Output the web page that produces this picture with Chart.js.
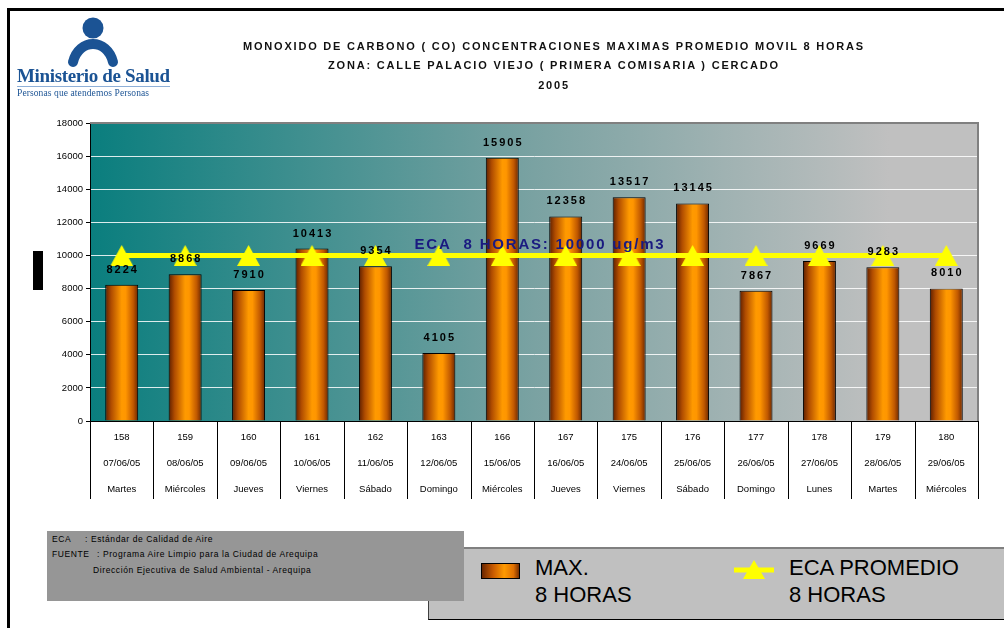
<!DOCTYPE html>
<html>
<head>
<meta charset="utf-8">
<script src="https://cdn.jsdelivr.net/npm/chart.js@4"></script>
<style>
  body { margin: 0; width: 1004px; height: 628px; position: relative; overflow: hidden; background: #fff;
         font-family: "Liberation Sans", Arial, sans-serif; }
  #chart { position: absolute; left: 0; top: 0; z-index: 1; }
  .frame { position: absolute; left: 7px; top: 8px; width: 1010px; height: 640px;
           border-top: 3px solid #000; border-left: 3px solid #000; z-index: 0; }
  .title { position: absolute; left: 104px; width: 900px; text-align: center; font-size: 11px;
           font-weight: bold; line-height: 11px; letter-spacing: 1.8px; color: #111; z-index: 2; }
  .logo { position: absolute; left: 0; top: 0; z-index: 2; }
  .logo-main { position: absolute; left: 17px; top: 66px; font-family: "Liberation Serif", serif; font-weight: bold;
               font-size: 19px; line-height: 19px; color: #1b5394; white-space: nowrap; letter-spacing: -0.35px; }
  .logo-line { position: absolute; left: 17px; top: 86px; width: 153px; height: 1px; background: #8fb0d8; }
  .logo-sub { position: absolute; left: 17px; top: 88px; font-family: "Liberation Serif", serif; font-size: 9.5px;
              line-height: 10px; color: #1b5394; white-space: nowrap; letter-spacing: 0.1px; }
  .mark { position: absolute; left: 33px; top: 251px; width: 10px; height: 39px; background: #000; z-index: 2; }
  .note { position: absolute; left: 47px; top: 531px; width: 417px; height: 70px; background: #969696; z-index: 4;
          font-size: 8.5px; letter-spacing: 0.6px; color: #000; }
  .note span { position: absolute; white-space: nowrap; line-height: 10px; }
  .legend { position: absolute; left: 428px; top: 547px; width: 600px; height: 70px; background: #c0c0c0; z-index: 3;
            border-top: 2px solid #808080; border-left: 1px solid #404040; border-bottom: 1px solid #000; }
  .legend .txt { position: absolute; font-size: 22px; line-height: 27px; color: #000; white-space: nowrap; }
  .swatch { position: absolute; left: 52px; top: 14px; width: 37px; height: 14px; border: 1px solid #000;
            background: linear-gradient(to right, #6a2600, #c85a00 30%, #ff9a00 60%, #e07000 85%, #7a3000); }
</style>
</head>
<body>
<div class="frame"></div>

<div class="logo">
  <svg width="180" height="70" style="position:absolute;left:0;top:0">
    <circle cx="93" cy="28" r="10.5" fill="#1b5394"/>
    <path d="M73 62 C 79 38, 107 38, 113 62" fill="none" stroke="#1b5394" stroke-width="10" stroke-linecap="round"/>
  </svg>
  <div class="logo-main">Ministerio de Salud</div>
  <div class="logo-line"></div>
  <div class="logo-sub">Personas que atendemos Personas</div>
</div>

<div class="title" style="top:41px">MONOXIDO DE CARBONO ( CO) CONCENTRACIONES MAXIMAS PROMEDIO MOVIL 8 HORAS</div>
<div class="title" style="top:60px">ZONA: CALLE PALACIO VIEJO ( PRIMERA COMISARIA ) CERCADO</div>
<div class="title" style="top:80px">2005</div>

<div class="mark"></div>

<canvas id="chart" width="1004" height="628"></canvas>

<div class="legend">
  <div class="swatch"></div>
  <div class="txt" style="left:106px;top:5px">MAX.<br>8 HORAS</div>
  <svg width="40" height="22" style="position:absolute;left:305px;top:11px">
    <line x1="0" y1="10" x2="40" y2="10" stroke="#ffff00" stroke-width="5"/>
    <polygon points="20,0 31,19 9,19" fill="#ffff00"/>
  </svg>
  <div class="txt" style="left:360px;top:5px">ECA PROMEDIO<br>8 HORAS</div>
</div>

<div class="note">
  <span style="left:5px;top:3px">ECA</span>
  <span style="left:38px;top:3px">: Estándar de Calidad de Aire</span>
  <span style="left:5px;top:18px">FUENTE</span>
  <span style="left:50px;top:18px">: Programa Aire Limpio para la Ciudad de Arequipa</span>
  <span style="left:46px;top:34px">Dirección Ejecutiva de Salud Ambiental - Arequipa</span>
</div>

<script>
// ---- data ----
const codes = ['158', '159', '160', '161', '162', '163', '166', '167', '175', '176', '177', '178', '179', '180'];
const dates = ['07/06/05', '08/06/05', '09/06/05', '10/06/05', '11/06/05', '12/06/05', '15/06/05',
               '16/06/05', '24/06/05', '25/06/05', '26/06/05', '27/06/05', '28/06/05', '29/06/05'];
const days = ['Martes', 'Miércoles', 'Jueves', 'Viernes', 'Sábado', 'Domingo', 'Miércoles',
              'Jueves', 'Viernes', 'Sábado', 'Domingo', 'Lunes', 'Martes', 'Miércoles'];
const maxValues = [8224, 8868, 7910, 10413, 9354, 4105, 15905, 12358, 13517, 13145, 7867, 9669, 9283, 8010];
const ecaValues = [10000, 10000, 10000, 10000, 10000, 10000, 10000, 10000, 10000, 10000, 10000, 10000, 10000, 10000];
const yMin = 0;
const yMax = 18000;
const yStep = 2000;
const ecaText = 'ECA  8 HORAS: 10000 ug/m3';

const FONT = '"Liberation Sans", Arial, sans-serif';
const BAR_PCT = 0.52;

// triangle marker for the ECA line
function makeTriangle(w, h) {
  const c = document.createElement('canvas');
  c.width = w; c.height = h;
  const g = c.getContext('2d');
  g.fillStyle = '#ffff00';
  g.beginPath();
  g.moveTo(w / 2, 0);
  g.lineTo(w, h);
  g.lineTo(0, h);
  g.closePath();
  g.fill();
  return c;
}
const triangle = makeTriangle(23, 21);

// orange "cylinder" gradient for each bar
function barFill(context) {
  const chart = context.chart;
  const xs = chart.scales.x;
  if (!xs || !chart.chartArea || context.type !== 'data') return '#ff9900';
  const cx = xs.getPixelForValue(context.dataIndex);
  const w = (xs.width / codes.length) * BAR_PCT;
  const g = chart.ctx.createLinearGradient(cx - w / 2, 0, cx + w / 2, 0);
  g.addColorStop(0, '#5c1e00');
  g.addColorStop(0.18, '#b04c00');
  g.addColorStop(0.5, '#ff9a00');
  g.addColorStop(0.62, '#ff9600');
  g.addColorStop(0.85, '#c05800');
  g.addColorStop(1, '#6a2600');
  return g;
}

const plotBackground = {
  id: 'plotBackground',
  beforeDraw(chart) {
    const { ctx, chartArea: a } = chart;
    const g = ctx.createLinearGradient(a.left, 0, a.right, 0);
    g.addColorStop(0, '#0a7e7e');
    g.addColorStop(0.5, '#7aa2a2');
    g.addColorStop(0.9, '#c0c0c0');
    g.addColorStop(1, '#c0c0c0');
    ctx.save();
    ctx.fillStyle = g;
    ctx.fillRect(a.left, a.top, a.right - a.left, a.bottom - a.top);
    ctx.restore();
  }
};

const extras = {
  id: 'extras',
  afterDraw(chart) {
    const { ctx, chartArea: a } = chart;
    const xs = chart.scales.x;
    const ys = chart.scales.y;
    ctx.save();

    // grey frame top / right
    ctx.strokeStyle = '#808080';
    ctx.lineWidth = 2;
    ctx.beginPath();
    ctx.moveTo(a.left, a.top);
    ctx.lineTo(a.right, a.top);
    ctx.lineTo(a.right, a.bottom);
    ctx.stroke();

    // table separators under the axis
    ctx.strokeStyle = '#000';
    ctx.lineWidth = 1;
    for (let i = 0; i <= codes.length; i++) {
      let x;
      if (i === 0) x = a.left;
      else if (i === codes.length) x = a.right;
      else x = (xs.getPixelForValue(i - 1) + xs.getPixelForValue(i)) / 2;
      x = Math.round(x) + 0.5;
      ctx.beginPath();
      ctx.moveTo(x, a.bottom);
      ctx.lineTo(x, a.bottom + 78);
      ctx.stroke();
    }

    // value labels above bars
    const meta = chart.getDatasetMeta(1);
    ctx.fillStyle = '#000';
    ctx.font = 'bold 11px ' + FONT;
    ctx.letterSpacing = '2px';
    ctx.textAlign = 'center';
    ctx.textBaseline = 'alphabetic';
    meta.data.forEach((bar, i) => {
      ctx.fillText(String(maxValues[i]), bar.x + 1, bar.y - 12);
    });

    // ECA annotation
    ctx.fillStyle = '#1a1a80';
    ctx.font = 'bold 15px ' + FONT;
    ctx.letterSpacing = '1.8px';
    ctx.fillText(ecaText, 540, ys.getPixelForValue(ecaValues[0]) - 6);
    ctx.restore();
  }
};

new Chart(document.getElementById('chart'), {
  type: 'bar',
  data: {
    labels: codes.map((c, i) => [c, dates[i], days[i]]),
    datasets: [
      {
        type: 'line',
        label: 'ECA PROMEDIO 8 HORAS',
        data: ecaValues,
        borderColor: '#ffff00',
        backgroundColor: '#ffff00',
        borderWidth: 5,
        pointStyle: triangle,
        pointRadius: 12,
        fill: false,
        order: 0
      },
      {
        type: 'bar',
        label: 'MAX. 8 HORAS',
        data: maxValues,
        backgroundColor: barFill,
        borderColor: '#000',
        borderWidth: 1,
        barPercentage: BAR_PCT,
        categoryPercentage: 1,
        order: 1
      }
    ]
  },
  options: {
    responsive: false,
    animation: false,
    layout: { padding: { left: 0, right: 26, top: 123, bottom: 127 } },
    plugins: {
      legend: { display: false },
      tooltip: { enabled: false }
    },
    scales: {
      x: {
        afterFit(scale) { scale.height = 80; },
        grid: { display: false },
        border: { display: true, color: '#000', width: 1 },
        ticks: {
          color: '#000',
          padding: -5,
          maxRotation: 0,
          autoSkip: false,
          font: { family: FONT, size: 9.5, lineHeight: 2.75 }
        }
      },
      y: {
        min: yMin,
        max: yMax,
        afterFit(scale) { scale.width = 90; },
        grid: { color: 'rgba(255,255,255,0.85)', lineWidth: 1, tickLength: 4, tickColor: '#000' },
        border: { color: '#000', width: 1 },
        ticks: {
          stepSize: yStep,
          color: '#000',
          padding: 3,
          font: { family: FONT, size: 9.5 },
          callback: (v) => String(v)
        }
      }
    }
  },
  plugins: [plotBackground, extras]
});
</script>
</body>
</html>
